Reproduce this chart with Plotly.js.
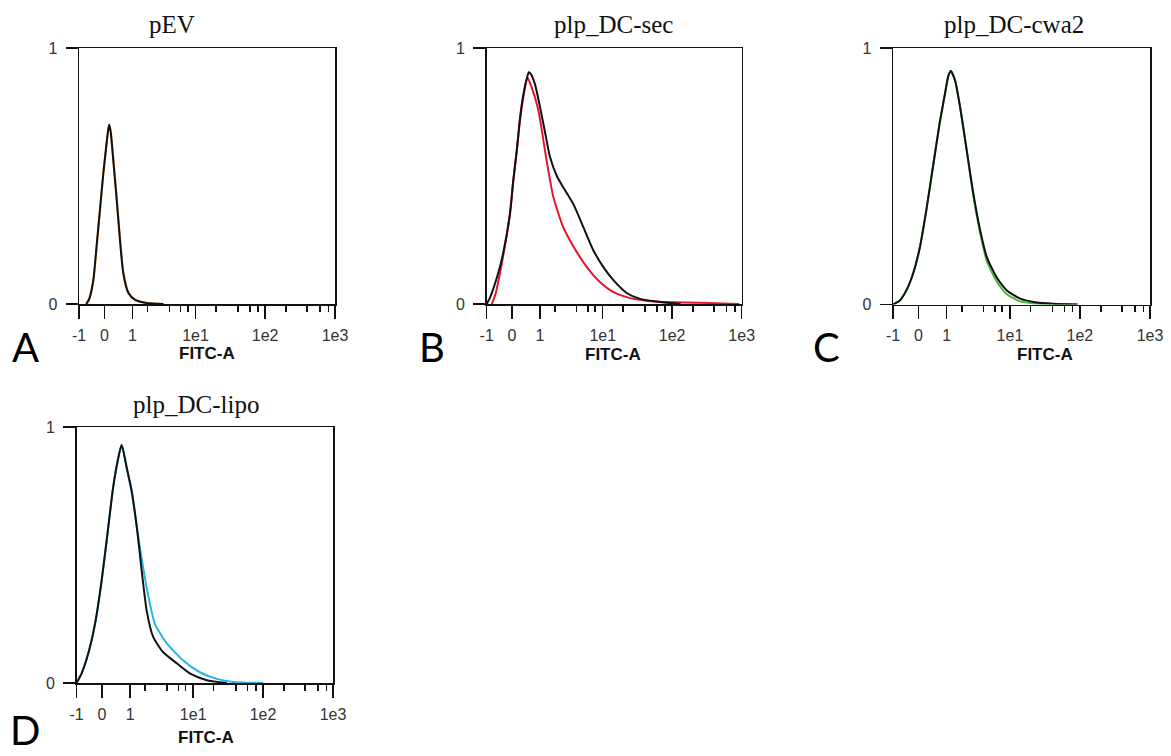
<!DOCTYPE html>
<html>
<head>
<meta charset="utf-8">
<script src="https://cdn.plot.ly/plotly-3.0.1.min.js"></script>
<style>html,body{margin:0;padding:0;background:#fff;}#chart{width:1171px;height:756px;}</style>
</head>
<body>
<div id="chart"></div>
<script>
// ---- axis (display channel units, 0..1000) ----
const tickChannels = [0, 99, 209, 455, 727, 1000];
const tickLabels = ['-1', '0', '1', '1e1', '1e2', '1e3'];
const minorChannels = [268, 353, 397, 425, 535, 621, 667, 699, 809, 891, 941, 974];

// ---- panel A: pEV ----
const A_x = [28, 40, 56, 69, 82, 95, 108, 114, 118, 124, 134, 147, 160, 173, 193, 219, 264, 330];
const A_black = [0, 0.02, 0.094, 0.23, 0.37, 0.51, 0.63, 0.68, 0.70, 0.67, 0.56, 0.41, 0.25, 0.12, 0.043, 0.016, 0.004, 0];
const A_orange = [0, 0.02, 0.09, 0.22, 0.365, 0.51, 0.63, 0.68, 0.70, 0.675, 0.57, 0.42, 0.26, 0.125, 0.045, 0.017, 0.004, 0];

// ---- panel B: plp_DC-sec ----
const B_black_x = [0, 13, 45, 65, 91, 104, 118, 131, 144, 157, 165, 172, 189, 209, 229, 248, 275, 300, 340, 379, 418, 457, 496, 549, 601, 680, 760];
const B_black = [0, 0.025, 0.12, 0.2, 0.35, 0.48, 0.6, 0.73, 0.82, 0.88, 0.905, 0.9, 0.86, 0.77, 0.67, 0.575, 0.5, 0.456, 0.39, 0.30, 0.21, 0.145, 0.094, 0.043, 0.02, 0.008, 0];
const B_red_x = [20, 35, 50, 65, 91, 104, 118, 131, 144, 155, 160, 175, 202, 235, 261, 300, 340, 392, 444, 496, 562, 652, 836, 990];
const B_red = [0, 0.04, 0.11, 0.19, 0.35, 0.48, 0.6, 0.72, 0.81, 0.87, 0.885, 0.85, 0.76, 0.56, 0.42, 0.30, 0.225, 0.145, 0.086, 0.047, 0.023, 0.01, 0.005, 0];

// ---- panel C: plp_DC-cwa2 ----
const C_x = [0, 26, 52, 78, 104, 130, 156, 182, 202, 215, 225, 241, 261, 287, 313, 339, 365, 404, 443, 495, 547, 624, 718];
const C_black = [0, 0.015, 0.055, 0.12, 0.22, 0.37, 0.54, 0.71, 0.82, 0.89, 0.91, 0.875, 0.77, 0.60, 0.43, 0.29, 0.185, 0.105, 0.055, 0.023, 0.01, 0.003, 0];
const C_green = [0, 0.015, 0.055, 0.12, 0.22, 0.37, 0.54, 0.71, 0.82, 0.89, 0.91, 0.875, 0.77, 0.60, 0.42, 0.28, 0.17, 0.09, 0.04, 0.012, 0.004, 0, 0];

// ---- panel D: plp_DC-lipo ----
const D_black_x = [0, 20, 46, 72, 98, 124, 143, 163, 176, 196, 215, 235, 254, 274, 299, 338, 391, 442, 508, 586];
const D_black = [0, 0.038, 0.116, 0.23, 0.40, 0.61, 0.765, 0.88, 0.93, 0.84, 0.75, 0.61, 0.44, 0.28, 0.18, 0.12, 0.077, 0.038, 0.011, 0];
const D_blue_x = [0, 20, 46, 72, 98, 124, 143, 163, 176, 196, 215, 235, 260, 280, 306, 352, 416, 481, 547, 611, 728];
const D_blue = [0, 0.038, 0.116, 0.23, 0.40, 0.61, 0.765, 0.88, 0.93, 0.84, 0.75, 0.61, 0.45, 0.34, 0.23, 0.155, 0.088, 0.042, 0.016, 0.004, 0];

const panelTitles = ['pEV', 'plp_DC-sec', 'plp_DC-cwa2', 'plp_DC-lipo'];
const panelLetters = ['A', 'B', 'C', 'D'];
const axisLabel = 'FITC-A';

// ---- layout geometry (pixels) ----
const W = 1171, H = 756;
const boxes = [
  {l: 79, r: 335, t: 48, b: 304},
  {l: 486.7, r: 741.7, t: 48, b: 304},
  {l: 893, r: 1150, t: 48, b: 304.5},
  {l: 76.5, r: 333, t: 427, b: 683}
];
const titlePos = [[172, 24], [613, 24], [1014, 24], [196, 404]];
const letterPos = [[25, 347], [432, 347], [826, 347], [25, 756]];
const letterAnchor = ['middle', 'middle', 'middle', 'bottom'];
const labelPos = [[207, 353], [613, 355], [1045, 355], [206, 737]];

function ln(color) { return {color: color, width: 2, shape: 'spline', smoothing: 0.6}; }

const traces = [
  {x: A_x, y: A_orange, xaxis: 'x', yaxis: 'y', mode: 'lines', line: ln('#ee9a4a')},
  {x: A_x, y: A_black, xaxis: 'x', yaxis: 'y', mode: 'lines', line: ln('#111')},
  {x: B_red_x, y: B_red, xaxis: 'x2', yaxis: 'y2', mode: 'lines', line: ln('#e8142c')},
  {x: B_black_x, y: B_black, xaxis: 'x2', yaxis: 'y2', mode: 'lines', line: ln('#111')},
  {x: C_x, y: C_green, xaxis: 'x3', yaxis: 'y3', mode: 'lines', line: ln('#3dbb3d')},
  {x: C_x, y: C_black, xaxis: 'x3', yaxis: 'y3', mode: 'lines', line: ln('#111')},
  {x: D_blue_x, y: D_blue, xaxis: 'x4', yaxis: 'y4', mode: 'lines', line: ln('#27b4e6')},
  {x: D_black_x, y: D_black, xaxis: 'x4', yaxis: 'y4', mode: 'lines', line: ln('#111')}
];

const layout = {
  width: W, height: H,
  margin: {l: 0, r: 0, t: 0, b: 0},
  paper_bgcolor: '#fff', plot_bgcolor: '#fff',
  showlegend: false,
  annotations: []
};

boxes.forEach((bx, i) => {
  const s = i === 0 ? '' : String(i + 1);
  layout['xaxis' + s] = {
    domain: [bx.l / W, bx.r / W], anchor: 'y' + s,
    range: [0, 1000], fixedrange: true,
    tickmode: 'array', tickvals: tickChannels, ticktext: tickLabels,
    ticks: 'outside', ticklen: 13, tickwidth: 1.5, tickcolor: '#111',
    minor: {tickmode: 'array', tickvals: minorChannels, ticks: 'outside', ticklen: 6, tickwidth: 1.5, tickcolor: '#111'},
    showline: true, mirror: true, linecolor: '#111', linewidth: 1.5,
    showgrid: false, zeroline: false,
    tickfont: {family: 'Liberation Sans, Arial, sans-serif', size: 16, color: '#333'},
    ticklabelstandoff: 3
  };
  layout['yaxis' + s] = {
    domain: [1 - bx.b / H, 1 - bx.t / H], anchor: 'x' + s,
    range: [0, 1], fixedrange: true,
    tickmode: 'array', tickvals: [0, 1], ticktext: ['0', '1'],
    ticks: 'outside', ticklen: 12, tickwidth: 1.5, tickcolor: '#111',
    showline: true, mirror: true, linecolor: '#111', linewidth: 1.5,
    showgrid: false, zeroline: false,
    tickfont: {family: 'Liberation Sans, Arial, sans-serif', size: 16, color: '#333'},
    ticklabelstandoff: 5
  };
  layout.annotations.push({
    text: panelTitles[i], xref: 'paper', yref: 'paper',
    x: titlePos[i][0] / W, y: 1 - titlePos[i][1] / H, xanchor: 'center', yanchor: 'middle',
    showarrow: false, font: {family: 'Liberation Serif, Times New Roman, serif', size: 25, color: '#111'}
  });
  layout.annotations.push({
    text: panelLetters[i], xref: 'paper', yref: 'paper',
    x: letterPos[i][0] / W, y: 1 - letterPos[i][1] / H, xanchor: 'center', yanchor: letterAnchor[i],
    showarrow: false, font: {family: 'Lato, Open Sans, sans-serif', size: 40, color: '#000'}
  });
  layout.annotations.push({
    text: '<b>' + axisLabel + '</b>', xref: 'paper', yref: 'paper',
    x: labelPos[i][0] / W, y: 1 - labelPos[i][1] / H, xanchor: 'center', yanchor: 'middle',
    showarrow: false, font: {family: 'Liberation Sans, Arial, sans-serif', size: 17, color: '#111'}
  });
});

Plotly.newPlot('chart', traces, layout, {staticPlot: true, displayModeBar: false});
</script>
</body>
</html>
